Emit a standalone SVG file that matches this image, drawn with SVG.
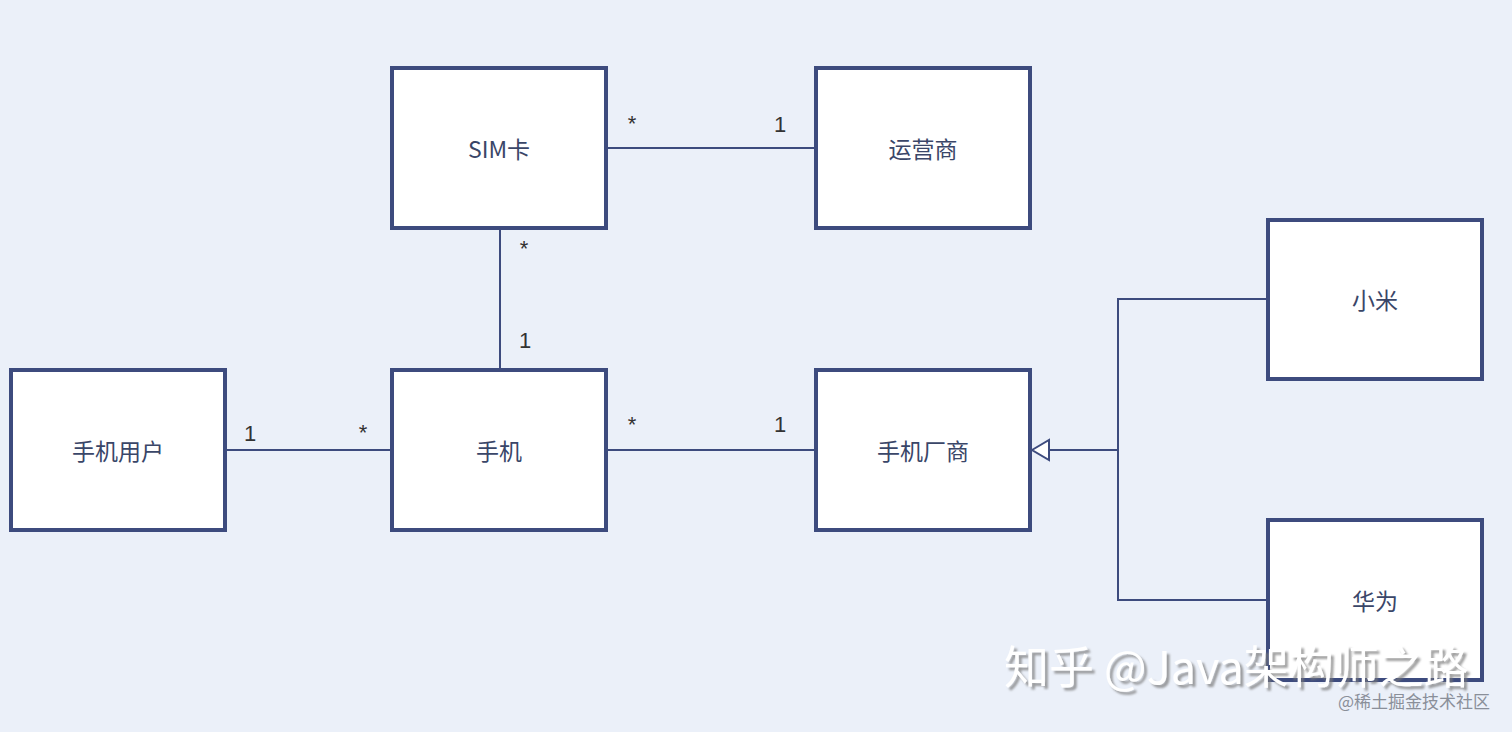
<svg xmlns="http://www.w3.org/2000/svg" width="1512" height="732" viewBox="0 0 1512 732">
<defs>
<filter id="sh" x="-5%" y="-20%" width="110%" height="150%"><feDropShadow dx="3" dy="3" stdDeviation="1" flood-color="#777" flood-opacity="0.7"/></filter>
</defs>
<style>
.box{fill:#fff;stroke:#3d4b7e;stroke-width:4}
.t{font-family:"Noto Sans CJK SC","Liberation Sans",sans-serif;font-size:23px;fill:#3a4668;text-anchor:middle;dominant-baseline:central}
.m{font-family:"Liberation Sans",sans-serif;font-size:22px;fill:#333;text-anchor:middle}
.c{stroke:#3d4b7e;stroke-width:2;fill:none}
</style>
<rect width="1512" height="732" fill="#ebf0f9"/>
<g id="connectors">
<line class="c" x1="606" y1="148" x2="816" y2="148"/>
<line class="c" x1="500" y1="228" x2="500" y2="370"/>
<line class="c" x1="225" y1="450" x2="392" y2="450"/>
<line class="c" x1="606" y1="450" x2="816" y2="450"/>
<polyline class="c" points="1268,299 1118,299 1118,600 1268,600"/>
<line class="c" x1="1049" y1="450" x2="1118" y2="450"/>
<polygon points="1032,450 1049,440 1049,460" fill="#fff" stroke="#3d4b7e" stroke-width="2"/>
<text class="m" x="632" y="131">*</text>
<text class="m" x="780" y="132">1</text>
<text class="m" x="524" y="256">*</text>
<text class="m" x="525" y="348">1</text>
<text class="m" x="250" y="441">1</text>
<text class="m" x="363" y="440">*</text>
<text class="m" x="632" y="432">*</text>
<text class="m" x="780" y="432">1</text>
</g>
<g id="sim"><rect class="box" x="392" y="68" width="214" height="160"/><text class="t" x="499" y="148">SIM卡</text></g>
<g id="yys"><rect class="box" x="816" y="68" width="214" height="160"/><text class="t" x="923" y="148">运营商</text></g>
<g id="user"><rect class="box" x="11" y="370" width="214" height="160"/><text class="t" x="118" y="450">手机用户</text></g>
<g id="phone"><rect class="box" x="392" y="370" width="214" height="160"/><text class="t" x="499" y="450">手机</text></g>
<g id="maker"><rect class="box" x="816" y="370" width="214" height="160"/><text class="t" x="923" y="450">手机厂商</text></g>
<g id="xiaomi"><rect class="box" x="1268" y="220" width="214" height="159"/><text class="t" x="1375" y="299">小米</text></g>
<g id="huawei"><rect class="box" x="1268" y="520" width="214" height="160"/><text class="t" x="1375" y="600">华为</text></g>
<g id="watermark" font-family="Noto Sans CJK SC,sans-serif">
<text x="1004" y="684" font-size="45" fill="#fff" filter="url(#sh)">知乎 @Java架构师之路</text>
<text x="1490" y="708" font-size="17" fill="#8a8f99" text-anchor="end">@稀土掘金技术社区</text>
</g>
</svg>
